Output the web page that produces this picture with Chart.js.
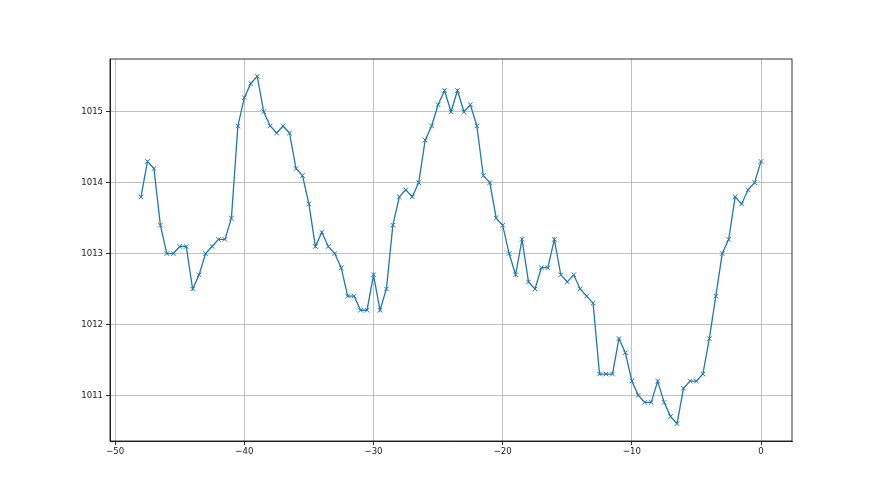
<!DOCTYPE html>
<html>
<head>
<meta charset="utf-8">
<script src="https://cdn.jsdelivr.net/npm/chart.js@4/dist/chart.umd.min.js"></script>
<style>
  html, body { margin: 0; padding: 0; background: #fff; }
  #wrap { width: 880px; height: 495px; }
</style>
</head>
<body>
<div id="wrap"><canvas id="chart"></canvas></div>
<script>
"use strict";

// hours relative to now, every half hour
const hours = [
  -48, -47.5, -47, -46.5, -46, -45.5, -45, -44.5, -44, -43.5,
  -43, -42.5, -42, -41.5, -41, -40.5, -40, -39.5, -39, -38.5,
  -38, -37.5, -37, -36.5, -36, -35.5, -35, -34.5, -34, -33.5,
  -33, -32.5, -32, -31.5, -31, -30.5, -30, -29.5, -29, -28.5,
  -28, -27.5, -27, -26.5, -26, -25.5, -25, -24.5, -24, -23.5,
  -23, -22.5, -22, -21.5, -21, -20.5, -20, -19.5, -19, -18.5,
  -18, -17.5, -17, -16.5, -16, -15.5, -15, -14.5, -14, -13.5,
  -13, -12.5, -12, -11.5, -11, -10.5, -10, -9.5, -9, -8.5,
  -8, -7.5, -7, -6.5, -6, -5.5, -5, -4.5, -4, -3.5,
  -3, -2.5, -2, -1.5, -1, -0.5, 0
];

// pressure readings (hPa)
const pressure = [
  1013.8, 1014.3, 1014.2, 1013.4, 1013.0, 1013.0, 1013.1, 1013.1, 1012.5, 1012.7,
  1013.0, 1013.1, 1013.2, 1013.2, 1013.5, 1014.8, 1015.2, 1015.4, 1015.5, 1015.0,
  1014.8, 1014.7, 1014.8, 1014.7, 1014.2, 1014.1, 1013.7, 1013.1, 1013.3, 1013.1,
  1013.0, 1012.8, 1012.4, 1012.4, 1012.2, 1012.2, 1012.7, 1012.2, 1012.5, 1013.4,
  1013.8, 1013.9, 1013.8, 1014.0, 1014.6, 1014.8, 1015.1, 1015.3, 1015.0, 1015.3,
  1015.0, 1015.1, 1014.8, 1014.1, 1014.0, 1013.5, 1013.4, 1013.0, 1012.7, 1013.2,
  1012.6, 1012.5, 1012.8, 1012.8, 1013.2, 1012.7, 1012.6, 1012.7, 1012.5, 1012.4,
  1012.3, 1011.3, 1011.3, 1011.3, 1011.8, 1011.6, 1011.2, 1011.0, 1010.9, 1010.9,
  1011.2, 1010.9, 1010.7, 1010.6, 1011.1, 1011.2, 1011.2, 1011.3, 1011.8, 1012.4,
  1013.0, 1013.2, 1013.8, 1013.7, 1013.9, 1014.0, 1014.3
];

const xTicks = [-50, -40, -30, -20, -10, 0];
const yTicks = [1011, 1012, 1013, 1014, 1015];

// matplotlib-style 5% margins
const xSpan = hours[hours.length - 1] - hours[0];
const yMinData = Math.min(...pressure), yMaxData = Math.max(...pressure);
const ySpan = yMaxData - yMinData;

// frame around the plot area (top/right spines)
const frame = {
  id: "frame",
  afterDraw(chart) {
    const { ctx, chartArea: a } = chart;
    ctx.save();
    ctx.strokeStyle = "#000";
    ctx.lineWidth = 0.8;
    ctx.strokeRect(a.left, a.top, a.right - a.left, a.bottom - a.top);
    ctx.restore();
  },
};

const font = { family: "'Liberation Sans Narrow', 'DejaVu Sans Condensed', sans-serif", size: 9.5 };

new Chart(document.getElementById("chart").getContext("2d"), {
  type: "line",
  data: {
    datasets: [{
      data: hours.map((h, i) => ({ x: h, y: pressure[i] })),
      borderColor: "#1f77b4",
      backgroundColor: "#1f77b4",
      borderWidth: 1.3,
      pointStyle: "crossRot",
      pointRadius: 3.2,
      pointBorderWidth: 1,
      pointBorderColor: "#1f77b4",
      tension: 0,
      fill: false,
    }],
  },
  options: {
    responsive: true,
    maintainAspectRatio: false,
    animation: false,
    layout: { padding: { left: 60, right: 88, top: 59, bottom: 24 } },
    plugins: { legend: { display: false }, tooltip: { enabled: false } },
    scales: {
      x: {
        type: "linear",
        min: hours[0] - 0.05 * xSpan,
        max: hours[hours.length - 1] + 0.05 * xSpan,
        afterBuildTicks: s => { s.ticks = xTicks.map(v => ({ value: v })); },
        afterFit: s => { s.height = 30; },
        ticks: { font, color: "#222", padding: 1, maxRotation: 0,
                 callback: v => String(v).replace("-", "\u2212") },
        grid: { color: "#b0b0b0", lineWidth: 0.8, tickLength: 4, tickColor: "#000" },
        border: { color: "#000", width: 0.8 },
      },
      y: {
        min: yMinData - 0.05 * ySpan,
        max: yMaxData + 0.05 * ySpan,
        afterBuildTicks: s => { s.ticks = yTicks.map(v => ({ value: v })); },
        afterFit: s => { s.width = 50; },
        ticks: { font, color: "#222", padding: 3, callback: v => String(v) },
        grid: { color: "#b0b0b0", lineWidth: 0.8, tickLength: 4, tickColor: "#000" },
        border: { color: "#000", width: 0.8 },
      },
    },
  },
  plugins: [frame],
});
</script>
</body>
</html>
